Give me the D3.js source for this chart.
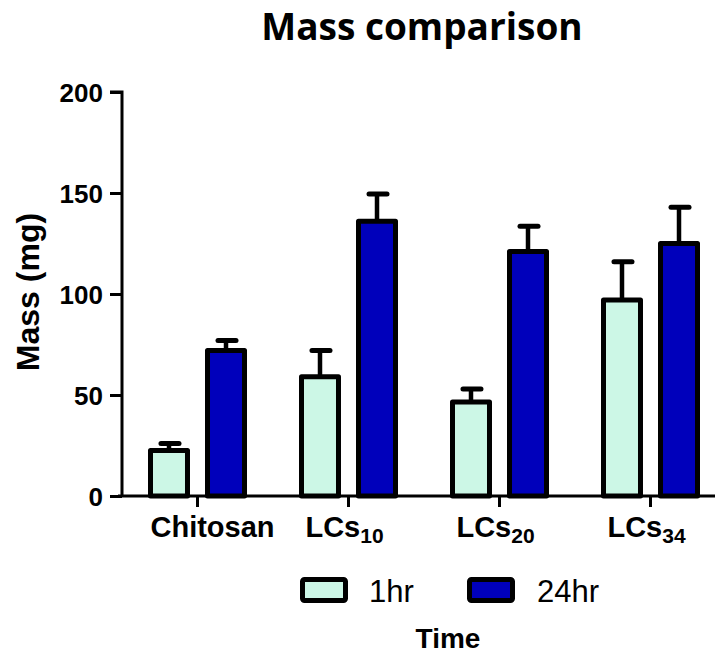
<!DOCTYPE html>
<html>
<head>
<meta charset="utf-8">
<script src="https://cdn.jsdelivr.net/npm/d3@7"></script>
<style>
  body { margin: 0; background: #fff; }
  svg text { font-family: "Liberation Sans", Arial, sans-serif; }
  svg text.title { font-family: "Open Sans", sans-serif; }
</style>
</head>
<body>
<div class="svg"></div>
<script>
// categories, each with a base name and subscript
var categories = ["Chitosan", "LCs10", "LCs20", "LCs34"];
var catBase = ["Chitosan", "LCs", "LCs", "LCs"];
var catSub = ["", "10", "20", "34"];
var seriesNames = ["1hr", "24hr"];
var seriesColors = ["#ccf7e6", "#0000bb"];
// mean mass (mg) and upper error (SD)
var mean1hr = [22.5, 59, 46.5, 97];
var err1hr = [3.5, 13, 6.5, 19];
var mean24hr = [72, 136, 121, 125];
var err24hr = [5, 13.5, 12.5, 18];
var yTicks = [0, 50, 100, 150, 200];

var width = 715, height = 654;
var svgContainer = d3.select(".svg").append("svg").attr("width", width).attr("height", height);

var x = d3.scaleBand().domain(categories).range([122, 726]).paddingInner(0).paddingOuter(0);
var xSub = d3.scaleBand().domain(seriesNames).range([-47, 47]).paddingInner(0.351).paddingOuter(0);
var y = d3.scaleLinear().domain([0, 200]).range([496, 92]);

// Build rows for drawing
var rows = [];
categories.forEach(function(c, i) {
    rows.push({cat: c, series: "1hr", value: mean1hr[i], err: err1hr[i], color: seriesColors[0]});
    rows.push({cat: c, series: "24hr", value: mean24hr[i], err: err24hr[i], color: seriesColors[1]});
});

// title
svgContainer.append("text").attr("class", "title").attr("x", 422).attr("y", 40).attr("text-anchor", "middle")
    .attr("font-size", "37px").attr("font-weight", "bold").text("Mass comparison");

// error bars (drawn before bars so the bar covers the stem)
rows.forEach(function(d) {
    var cx = x(d.cat) + x.bandwidth() / 2 + xSub(d.series) + xSub.bandwidth() / 2;
    svgContainer.append("line").attr("x1", cx).attr("x2", cx)
        .attr("y1", y(d.value)).attr("y2", y(d.value + d.err))
        .attr("stroke", "#000").attr("stroke-width", 4.5);
    svgContainer.append("line").attr("x1", cx - 8).attr("x2", cx + 10)
        .attr("y1", y(d.value + d.err)).attr("y2", y(d.value + d.err))
        .attr("stroke", "#000").attr("stroke-width", 5).attr("stroke-linecap", "round");
});

// bars
rows.forEach(function(d) {
    var bx = x(d.cat) + x.bandwidth() / 2 + xSub(d.series);
    svgContainer.append("rect").attr("x", bx).attr("y", y(d.value))
        .attr("width", xSub.bandwidth()).attr("height", y(0) - y(d.value))
        .attr("fill", d.color).attr("stroke", "#000").attr("stroke-width", 5)
        .attr("stroke-linejoin", "round");
});

// y axis
var yAxis = d3.axisLeft(y).tickValues(yTicks).tickSize(12).tickPadding(7);
var yG = svgContainer.append("g").attr("transform", "translate(122,0)").call(yAxis);
yG.select(".domain").attr("stroke-width", 3).attr("d", "M-12," + y(200) + "H0V" + y(0));
yG.selectAll(".tick line").attr("stroke-width", 3);
yG.selectAll(".tick text").attr("font-size", "26px").attr("font-weight", "bold")
    .attr("fill", "#000").attr("dy", "0.35em");

// x axis
var xAxis = d3.axisBottom(x).tickSize(11).tickFormat("");
var xG = svgContainer.append("g").attr("transform", "translate(0,496)").call(xAxis);
xG.select(".domain").attr("stroke-width", 3).attr("d", "M118,0H715");
xG.selectAll(".tick line").attr("stroke-width", 3);

// category labels with subscripts
categories.forEach(function(c, i) {
    var t = svgContainer.append("text").attr("x", x(c) + x.bandwidth() / 2 + (catSub[i] ? -4 : 15)).attr("y", 537)
        .attr("text-anchor", "middle").attr("font-size", "29px").attr("font-weight", "bold");
    t.append("tspan").text(catBase[i]);
    if (catSub[i]) {
        t.append("tspan").attr("dy", 6).attr("font-size", "21px").text(catSub[i]);
    }
});

// y label
svgContainer.append("text").attr("transform", "translate(39,292) rotate(-90)")
    .attr("text-anchor", "middle").attr("font-size", "32px").attr("font-weight", "bold").text("Mass (mg)");

// legend
var legendX = [302.5, 469.5];
var legendTextX = [369, 537];
seriesNames.forEach(function(s, i) {
    svgContainer.append("rect").attr("x", legendX[i]).attr("y", 579.5).attr("width", 43).attr("height", 21)
        .attr("fill", seriesColors[i]).attr("stroke", "#000").attr("stroke-width", 5).attr("rx", 2);
    svgContainer.append("text").attr("x", legendTextX[i]).attr("y", 602)
        .attr("font-size", "31px").text(s);
});

svgContainer.append("text").attr("x", 448).attr("y", 648).attr("text-anchor", "middle")
    .attr("font-size", "28px").attr("font-weight", "bold").text("Time");
</script>
</body>
</html>
